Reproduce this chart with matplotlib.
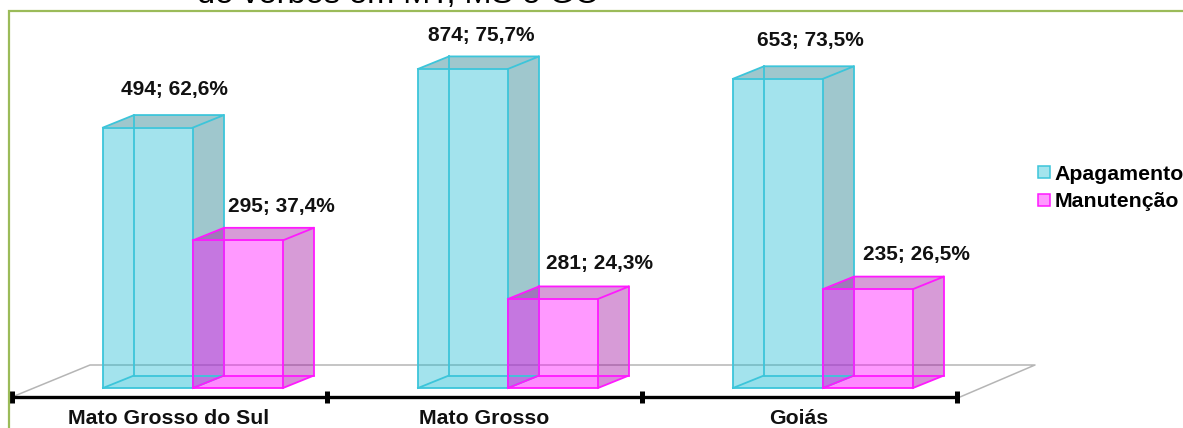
import matplotlib
matplotlib.use('Agg')
import matplotlib.pyplot as plt
from matplotlib.patches import Polygon, Patch

categories = ['Mato Grosso do Sul', 'Mato Grosso', 'Goiás']
series_names = ['Apagamento', 'Manutenção']
apagamento_n = [494, 874, 653]
apagamento_pct = [62.6, 75.7, 73.5]
manutencao_n = [295, 281, 235]
manutencao_pct = [37.4, 24.3, 26.5]

plt.rcParams['font.family'] = ['Liberation Sans', 'DejaVu Sans']

W, H = 1183, 428
fig = plt.figure(figsize=(W / 100, H / 100), dpi=100)

# eixo em pixels: x de 12 a 957, base das barras em y=388
ax = fig.add_axes([12 / W, 1 - 388 / H, 945 / W, 377 / H])
y0 = 4.4
ax.set_xlim(0, 3)
ax.set_ylim(y0, y0 + 377 / 4.475)
ax.patch.set_alpha(0)

# profundidade da perspectiva, em unidades dos dados
dx = 31 / 315
dy = 12.5 / 4.475
bar_w = 90 / 315
bar_off = 91 / 315


def box(x, top, face, side, edge):
    x1 = x + bar_w
    faces = [
        ([(x, y0), (x + dx, y0 + dy), (x1 + dx, y0 + dy), (x1, y0)], face, 0.1),  # chao
        ([(x, top), (x + dx, top + dy), (x1 + dx, top + dy), (x1, top)], side, 0.4),  # topo
        ([(x1, y0), (x1 + dx, y0 + dy), (x1 + dx, top + dy), (x1, top)], side, 0.4),  # lado
        ([(x, y0), (x1, y0), (x1, top), (x, top)], face, 0.4),  # frente
    ]
    for pts, col, a in faces:
        ax.add_patch(Polygon(pts, closed=True, facecolor=col, alpha=a, edgecolor='none',
                             clip_on=False, zorder=3))
    # arestas
    lines = [
        [(x, y0), (x1, y0), (x1, top), (x, top), (x, y0)],
        [(x, top), (x + dx, top + dy), (x1 + dx, top + dy), (x1, top)],
        [(x1, y0), (x1 + dx, y0 + dy), (x1 + dx, top + dy)],
        [(x + dx, top + dy), (x + dx, y0 + dy), (x1 + dx, y0 + dy)],
        [(x, y0), (x + dx, y0 + dy)],
    ]
    for ln in lines:
        ax.plot([p[0] for p in ln], [p[1] for p in ln], color=edge, lw=1.3,
                solid_joinstyle='miter', clip_on=False, zorder=4)


cyan = ('#19BBD2', '#117584', '#3CC5DA')
magenta = ('#FF00FF', '#9D059D', '#FF19FF')

# plano do chao
fy_back = y0 + 23 / 4.475
fy_front = y0 - 9 / 4.475
floor_x = [0, 78 / 315, 1023 / 315, 948 / 315]
floor_y = [fy_front, fy_back, fy_back, fy_front]
ax.plot(floor_x, floor_y, color='#B5B5B5', lw=1.1, clip_on=False, zorder=1)

# deslocamento dos rotulos em pixels a partir do centro da frente da barra
label_dx_a = [26, 18, 32]
label_dx_m = [43, 47, 48]
label_dy_a = [38, 33, 38]
label_dy_m = [34, 35, 35]

for i in range(len(categories)):
    xa = i + bar_off
    xm = xa + bar_w
    box(xa, apagamento_pct[i], *cyan)
    box(xm, manutencao_pct[i], *magenta)
    ta = f'{apagamento_n[i]}; {apagamento_pct[i]:.1f}%'.replace('.', ',')
    tm = f'{manutencao_n[i]}; {manutencao_pct[i]:.1f}%'.replace('.', ',')
    ax.annotate(ta, (xa + bar_w / 2, apagamento_pct[i]), xytext=(label_dx_a[i], label_dy_a[i]),
                textcoords='offset pixels', ha='center', va='center',
                fontsize=15, fontweight='bold', color='#111111', annotation_clip=False)
    ax.annotate(tm, (xm + bar_w / 2, manutencao_pct[i]), xytext=(label_dx_m[i], label_dy_m[i]),
                textcoords='offset pixels', ha='center', va='center',
                fontsize=15, fontweight='bold', color='#111111', annotation_clip=False)

# eixo x
for s in ['top', 'left', 'right']:
    ax.spines[s].set_visible(False)
ax.spines['bottom'].set_position(('outward', 9 * 0.72))
ax.spines['bottom'].set_linewidth(2.4)
ax.set_yticks([])
ax.set_xticks([0, 1, 2, 3])
ax.tick_params(axis='x', direction='inout', length=8, width=3.6, color='black', labelbottom=False)
for i, c in enumerate(categories):
    ax.annotate(c, (i + 0.5, y0), xytext=(-0.5, -30), textcoords='offset pixels',
                ha='center', va='center', fontsize=15.3, fontweight='bold',
                color='#111111', annotation_clip=False)

# legenda
handles = [Patch(facecolor='#A3E4ED', edgecolor='#3CC5DA', lw=1.1, label=series_names[0]),
           Patch(facecolor='#FF99FF', edgecolor='#FF19FF', lw=1.1, label=series_names[1])]
fig.legend(handles=handles, loc='center left', bbox_to_anchor=(1038 / W, 1 - 188 / H),
           frameon=False, prop={'size': 15.3, 'weight': 'bold'}, handlelength=0.55,
           handleheight=0.55, handletextpad=0.22, labelspacing=0.42, borderpad=0, borderaxespad=0)

# moldura verde do slide e resto do titulo cortado
fig.add_artist(plt.Line2D([9 / W, 9 / W, 1], [0, 1 - 10.5 / H, 1 - 10.5 / H], color='#9BBB59', lw=1.6,
                          solid_joinstyle='miter'))
fig.text(197 / W, 1 - 3 / H, 'de verbos em MT, MS e GO', fontsize=23.4, color='black', ha='left', va='baseline')

fig.savefig('out.png', dpi=100)
